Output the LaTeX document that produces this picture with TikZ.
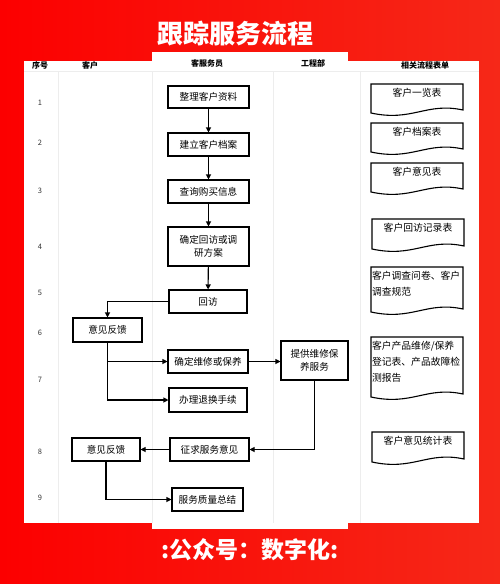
\documentclass[tikz,border=0pt]{standalone}
\usepackage{fontspec}
\setmainfont{Noto Sans CJK SC}
\usetikzlibrary{arrows.meta}
\tikzset{
  box/.style={draw=black, line width=1.1pt, fill=white, align=center, inner sep=1pt, font=\fontsize{9.6}{13}\selectfont},
  arr/.style={line width=1.1pt, -{Triangle[length=5pt,width=5pt]}},
  docline/.style={draw=black, line width=1.1pt, fill=white},
  doctext/.style={anchor=north, inner sep=0pt, font=\fontsize{9.8}{16}\selectfont},
  hdr/.style={font=\fontsize{8}{9}\selectfont\bfseries},
  num/.style={font=\fontsize{7.5}{9}\selectfont, text=black!80},
  grid/.style={draw=black!7, line width=0.5pt}
}
\newcommand\docbox[7]{%
  \draw[docline] (#2,#4) -- (#3,#4) -- (#3,#5-4)
    .. controls ({#2+0.6*(#3-#2)},#5-12) and ({#2+0.45*(#3-#2)},#5+8) .. (#2,#5-1) -- cycle;
  \node[doctext, #6] (#1) at ({(#2+#3)/2},#4+4) {#7};
}
\begin{document}
\begin{tikzpicture}[x=1pt,y=-1pt]
\useasboundingbox (0,0) rectangle (500,584);
\shade[left color={rgb,255:red,252;green,0;blue,0}, right color={rgb,255:red,246;green,40;blue,24}] (0,0) rectangle (500,584);
% white panel with tabs
\fill[white] (24,61) rectangle (479,523);
\fill[white] (152,52) rectangle (348,529);
% title and footer
\node[text=white, font=\fontsize{26}{28}\selectfont\bfseries] (title) at (235,34) {跟踪服务流程};
\node[text=white, font=\fontsize{23}{26}\selectfont\bfseries] (foot) at (250,550) {:公众号：数字化:};
% grid lines
\draw[grid] (24,71) -- (479,71);
\foreach \gx in {58,152,273,360} \draw[grid] (\gx,71) -- (\gx,523);
% header
\node[hdr] (h1) at (40,65) {序号};
\node[hdr] (h2) at (90,65) {客户};
\node[hdr] (h3) at (207,63) {客服务员};
\node[hdr] (h4) at (313,63) {工程部};
\node[hdr] (h5) at (425,65) {相关流程表单};
% row numbers
\node[num] (r1) at (40,103) {1};
\node[num] (r2) at (40,143) {2};
\node[num] (r3) at (40,191) {3};
\node[num] (r4) at (40,247) {4};
\node[num] (r5) at (40,293) {5};
\node[num] (r6) at (40,333) {6};
\node[num] (r7) at (40,380) {7};
\node[num] (r8) at (40,452) {8};
\node[num] (r9) at (40,498) {9};
% process boxes
\node[box, minimum width=81pt, minimum height=22pt] (n1) at (208.5,97) {整理客户资料};
\node[box, minimum width=81pt, minimum height=23pt] (n2) at (208.5,144.5) {建立客户档案};
\node[box, minimum width=81pt, minimum height=23pt] (n3) at (208.5,191.5) {查询购买信息};
\node[box, minimum width=81pt, minimum height=39pt] (n4) at (208.5,246.5) {确定回访或调\\研方案};
\node[box, minimum width=78pt, minimum height=23pt] (n5) at (208,301.5) {回访};
\node[box, minimum width=69pt, minimum height=24pt] (n6) at (107.5,330) {意见反馈};
\node[box, minimum width=80pt, minimum height=23pt] (n7) at (208,361.5) {确定维修或保养};
\node[box, minimum width=78pt, minimum height=24pt] (n8) at (208,400) {办理退换手续};
\node[box, minimum width=67pt, minimum height=39pt] (n9) at (314.5,360.5) {提供维修保\\养服务};
\node[box, minimum width=79pt, minimum height=23pt] (n10) at (209.5,449.5) {征求服务意见};
\node[box, minimum width=68pt, minimum height=23pt] (n11) at (106,449.5) {意见反馈};
\node[box, minimum width=71pt, minimum height=23pt] (n12) at (207.5,499.5) {服务质量总结};
% connectors
\draw[arr] (n1) -- (n2);
\draw[arr] (n2) -- (n3);
\draw[arr] (n3) -- (n4);
\draw[arr] (n4) -- (n5);
\draw[arr] (n5.west) -| (n6.north);
\draw[arr] (n6.south) |- (n7.west);
\draw[arr] (n6.south) |- (n8.west);
\draw[arr] (n7.east) -- (n7.east -| n9.west);
\draw[arr] (n9.south) |- (n10.east);
\draw[arr] (n10.west) -- (n11.east);
\draw[arr] (n11.south) |- (n12.west);
% documents
\docbox{d1}{371}{463}{84}{114}{align=center}{客户一览表}
\docbox{d2}{371}{463}{123}{153}{align=center}{客户档案表}
\docbox{d3}{371}{463}{163}{193}{align=center}{客户意见表}
\docbox{d4}{372}{464}{219}{250}{align=center}{客户回访记录表}
\docbox{d5}{371}{463}{267}{313}{align=left, text width=90pt}{客户调查问卷、客户\\调查规范}
\docbox{d6}{371}{463}{337}{398}{align=left, text width=90pt}{客户产品维修/保养\\登记表、产品故障检\\测报告}
\docbox{d7}{372}{464}{432}{463}{align=center}{客户意见统计表}
\end{tikzpicture}
\end{document}
